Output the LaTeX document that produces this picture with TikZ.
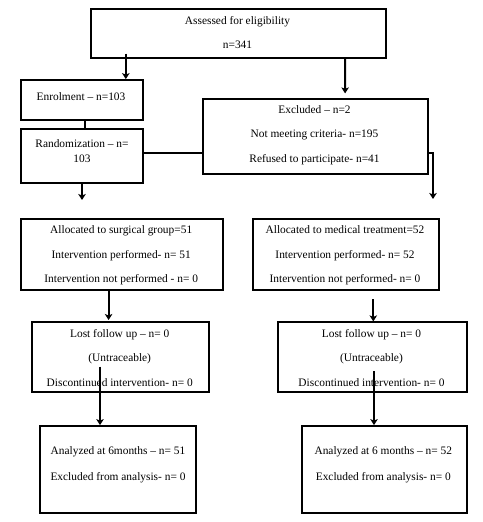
\documentclass[tikz,border=0pt]{standalone}
\usepackage{fontspec}
\setmainfont{Liberation Serif}
\usetikzlibrary{arrows.meta}
\tikzset{
  box/.style={draw=black, line width=1.8pt, rectangle, inner sep=0pt, fill=none},
  txt/.style={inner sep=0pt, align=center, font=\fontsize{11.4}{24.5}\selectfont},
  conn/.style={line width=1.8pt, draw=black},
  arr/.style={conn, -{Stealth[length=6pt,width=7.5pt,inset=1.5pt]}}
}
\begin{document}
\begin{tikzpicture}[x=1pt,y=-1pt]
\useasboundingbox[fill=white] (0,0) rectangle (482,522);
% boxes
\node[box, minimum width=295, minimum height=48.4] (assess) at (238.2,33.5) {};
\node[box, minimum width=122, minimum height=40] (enrol) at (82.3,100) {};
\node[box, minimum width=122, minimum height=53.7] (random) at (82.3,156.15) {};
\node[box, minimum width=225.3, minimum height=74.4] (excl) at (315.35,136.5) {};
\node[box, minimum width=201.4, minimum height=71] (surg) at (122,254.5) {};
\node[box, minimum width=185.4, minimum height=71] (med) at (346,254.5) {};
\node[box, minimum width=177, minimum height=70] (lostL) at (120.5,357.3) {};
\node[box, minimum width=189.3, minimum height=70] (lostR) at (372.65,357.3) {};
\node[box, minimum width=155.4, minimum height=87.3] (anaL) at (118,469.65) {};
\node[box, minimum width=165.6, minimum height=87.3] (anaR) at (384.5,469.65) {};
% texts
\node[txt, font=\fontsize{11.4}{23.7}\selectfont] (assessT) at (237.5,32.5) {Assessed for eligibility\\n=341};
\node[txt] (enrolT) at (81,97) {Enrolment -- n=103};
\node[txt, font=\fontsize{11.4}{15}\selectfont] (randomT) at (82,151.5) {Randomization -- n=\\103};
\node[txt] (exclT) at (314.5,135) {Excluded -- n=2\\Not meeting criteria- n=195\\Refused to participate- n=41};
\node[txt] (surgT) at (121.2,255.5) {Allocated to surgical group=51\\Intervention performed- n= 51\\Intervention not performed - n= 0};
\node[txt] (medT) at (345,255.5) {Allocated to medical treatment=52\\Intervention performed- n= 52\\Intervention not performed- n= 0};
\node[txt] (lostLT) at (119.7,358) {Lost follow up -- n= 0\\(Untraceable)\\Discontinued intervention- n= 0};
\node[txt] (lostRT) at (371.5,358) {Lost follow up -- n= 0\\(Untraceable)\\Discontinued intervention- n= 0};
\node[txt, font=\fontsize{11.4}{26.7}\selectfont] (anaLT) at (118,464.7) {Analyzed at 6months -- n= 51\\Excluded from analysis- n= 0};
\node[txt, font=\fontsize{11.4}{26.7}\selectfont] (anaRT) at (383.3,464.7) {Analyzed at 6 months -- n= 52\\Excluded from analysis- n= 0};
% connectors
\draw[arr] ([xshift=36pt,yshift=5pt]assess.south west) -- ([xshift=105.4pt]enrol.north west);
\draw[arr] ([xshift=255.3pt]assess.south west) -- ([xshift=143.3pt,yshift=5pt]excl.north west);
\draw[conn] ([xshift=64.7pt]enrol.south west) -- ([xshift=64.7pt]random.north west);
\draw[conn] (random.east |- 0,152.7) -- (excl.west |- 0,152.7);
\coordinate (exclTurn) at (433,152.7);
\coordinate (exclEnd) at (433,199);
\draw[arr] (excl.east |- exclTurn) -- (exclTurn) -- (exclEnd);
\coordinate (randEnd) at (82,200);
\draw[arr] (random.south -| randEnd) -- (randEnd);
\coordinate (surgX) at (108.6,320);
\draw[arr] (surg.south -| surgX) -- (surgX);
\coordinate (medStart) at (373.3,299);
\draw[arr] (medStart) -- (lostR.north -| medStart);
\coordinate (lostLStart) at (100,366.7);
\draw[arr] (lostLStart) -- (anaL.north -| lostLStart);
\coordinate (lostRStart) at (374,371);
\draw[arr] (lostRStart) -- (anaR.north -| lostRStart);
\end{tikzpicture}
\end{document}
